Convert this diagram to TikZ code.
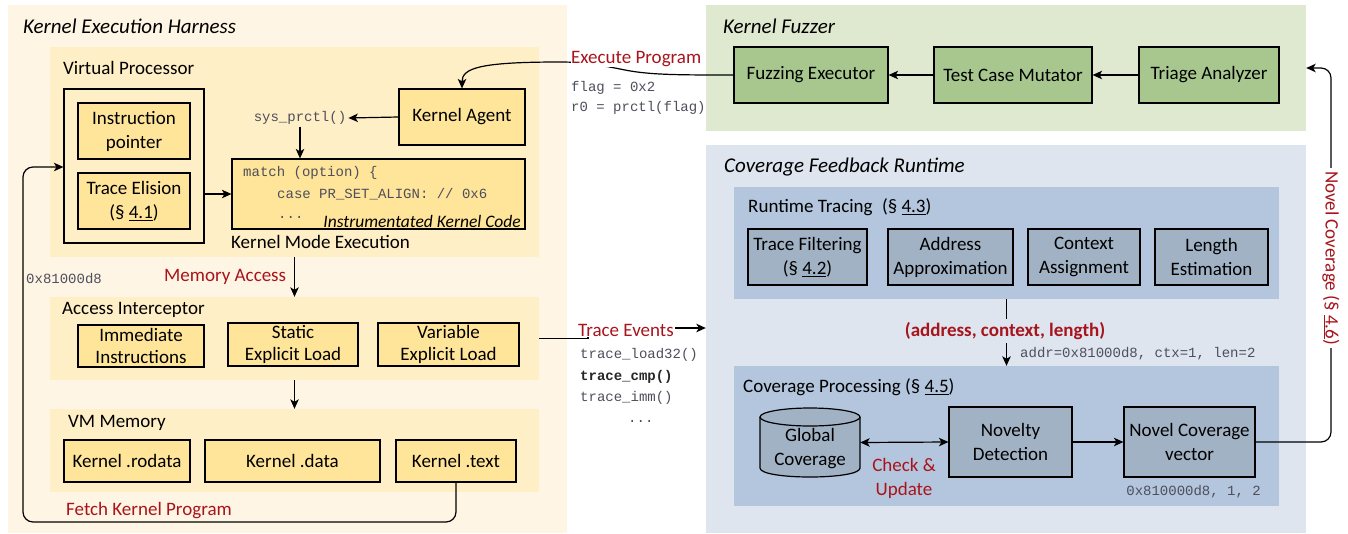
\documentclass[tikz,border=0pt]{standalone}
\usepackage{fontspec}
\setmainfont{Carlito}
\setmonofont{Liberation Mono}
\usetikzlibrary{arrows.meta}
\definecolor{bgY}{HTML}{FFF5E4}
\definecolor{pY}{HTML}{FFEFC6}
\definecolor{nY}{HTML}{FFE599}
\definecolor{bgG}{HTML}{DFE9CF}
\definecolor{nG}{HTML}{A8C78F}
\definecolor{bgB}{HTML}{DEE5EF}
\definecolor{pB}{HTML}{B3C6DD}
\definecolor{nB}{HTML}{A2B2C5}
\definecolor{dred}{HTML}{A8141C}
\definecolor{mono}{HTML}{4E4E5C}
\newcommand\fs{\fontsize{19}{24}\selectfont}
\newcommand\ttl{\fontsize{21}{25}\selectfont\itshape}
\newcommand\mt{\fontsize{14}{21}\selectfont\ttfamily}
\begin{document}
\begin{tikzpicture}[x=1pt,y=-1pt,
  every node/.style={font=\fs, inner sep=1pt},
  panel/.style={fill=#1, draw=none, inner sep=0},
  bx/.style={fill=#1, draw=black, line width=1.2pt, inner sep=0, align=center},
  arr/.style={-{Stealth[length=9.5pt,width=8.5pt,inset=2.5pt]}, line width=1.2pt},
  darr/.style={{Stealth[length=9.5pt,width=8.5pt,inset=2.5pt]}-{Stealth[length=9.5pt,width=8.5pt,inset=2.5pt]}, line width=1.2pt},
  lbl/.style={text=dred},
  code/.style={font=\mt, text=mono, anchor=west, inner sep=1pt}
]
\useasboundingbox (0,0) rectangle (1348,533);
% ---------- left harness
\node[panel=bgY, minimum width=559, minimum height=528] (harness) at (287.5,269) {};
\node[anchor=west, font=\ttl] (t1) at (22,26) {Kernel Execution Harness};
\node[panel=pY, minimum width=489, minimum height=210] (vp) at (294.5,152) {};
\node[anchor=west] (vpt) at (62,68) {Virtual Processor};
\node[bx=pY, minimum width=140, minimum height=154] (ib) at (134,166) {};
\node[bx=nY, minimum width=112, minimum height=56] (ip) at (134,131) {Instruction\\pointer};
\node[bx=nY, minimum width=112, minimum height=56] (te) at (134,201) {Trace Elision\\(§ \underline{4.1})};
\node[bx=nY, minimum width=126, minimum height=56] (ka) at (462,117) {Kernel Agent};
\node[font=\mt, text=mono, inner sep=2pt] (sp) at (300,118) {sys\_prctl()};
\node[bx=nY, minimum width=293, minimum height=70] (code) at (378.5,194) {};
\node[code] (c1) at (242,173) {match (option) \{};
\node[code] (c2) at (276,194) {case PR\_SET\_ALIGN: // 0x6};
\node[code] (c3) at (277,217) {...};
\node[anchor=east, font=\fontsize{17.5}{20}\selectfont\itshape] (ikc) at (522,221) {Instrumentated Kernel Code};
\node[anchor=west] (kme) at (230,242) {Kernel Mode Execution};

\node[panel=pY, minimum width=489, minimum height=83] (ai) at (294.5,338.5) {};
\node[anchor=west] (ait) at (61,310) {Access Interceptor};
\node[bx=nY, minimum width=126, minimum height=42] (imm) at (141,346) {Immediate\\[-2pt]Instructions};
\node[bx=nY, minimum width=130, minimum height=43] (sel) at (293,344.5) {Static\\[-2pt]Explicit Load};
\node[bx=nY, minimum width=141, minimum height=43] (vel) at (448.5,344.5) {Variable\\[-2pt]Explicit Load};

\node[panel=pY, minimum width=489, minimum height=83] (vm) at (294.5,450.5) {};
\node[anchor=west] (vmt) at (67,423) {VM Memory};
\node[bx=nY, minimum width=126, minimum height=42] (ro) at (127,461) {Kernel .rodata};
\node[bx=nY, minimum width=175, minimum height=42] (kd) at (292.5,461) {Kernel .data};
\node[bx=nY, minimum width=120, minimum height=42] (kt) at (456,461) {Kernel .text};

% ---------- fuzzer
\node[panel=bgG, minimum width=600, minimum height=126] (fuzz) at (1006,68) {};
\node[anchor=west, font=\ttl] (t2) at (722,26) {Kernel Fuzzer};
\node[bx=nG, minimum width=154, minimum height=56] (fe) at (811,75) {Fuzzing Executor};
\node[bx=nG, minimum width=158, minimum height=56] (tcm) at (1013,75) {Test Case Mutator};
\node[bx=nG, minimum width=140, minimum height=56] (ta) at (1209,75) {Triage Analyzer};

% ---------- coverage
\node[panel=bgB, minimum width=600, minimum height=388] (cfr) at (1006,339) {};
\node[anchor=west, font=\ttl] (t3) at (723,167) {Coverage Feedback Runtime};
\node[panel=pB, minimum width=545, minimum height=112] (rt) at (1006.5,243) {};
\node[anchor=west] (rtt) at (747,207) {Runtime Tracing\enspace(§ \underline{4.3})};
\node[bx=nB, minimum width=119, minimum height=56] (tf) at (807.5,257) {Trace Filtering\\(§ \underline{4.2})};
\node[bx=nB, minimum width=125, minimum height=56] (aa) at (950.5,257) {Address\\Approximation};
\node[bx=nB, minimum width=112, minimum height=56] (ca) at (1084,257) {Context\\Assignment};
\node[bx=nB, minimum width=113, minimum height=56] (le) at (1211.5,257) {Length\\Estimation};

\node[panel=pB, minimum width=545, minimum height=140] (cp) at (1006.5,436) {};
\node[anchor=west] (cpt) at (742,387) {Coverage Processing (§ \underline{4.5})};
% cylinder
\node[minimum width=100, minimum height=69, inner sep=0] (gc) at (810,442.5) {};
\fill[nB] (760,417) -- (760,468) .. controls (760,480) and (860,480) .. (860,468) -- (860,417) -- cycle;
\draw[line width=1.2pt] (760,417) -- (760,468) .. controls (760,480) and (860,480) .. (860,468) -- (860,417);
\draw[line width=1.2pt, fill=nB] (810,417) ellipse [x radius=50, y radius=9];
\node[align=center] (gct) at (810,449) {Global\\Coverage};
\node[bx=nB, minimum width=123, minimum height=70] (nd) at (1010.5,442) {Novelty\\Detection};
\node[bx=nB, minimum width=131, minimum height=70] (ncv) at (1189.5,442) {Novel Coverage\\vector};

% ---------- connectors
\draw[arr] (ka.west) -- (sp.east);
\draw[arr] (sp.south) -- (sp.south |- code.north);
\draw[arr] (ib.east |- code.west) -- (code.west);
\draw[arr] (vp.south) -- (ai.north);
\draw[arr] (ai.south) -- (vm.north);
\draw[arr, rounded corners=10pt] (kt.south) -- (kt.south |- 0,522) -- (23,522) -- (23,167) -- (ib.west |- 0,167);
\draw[arr] (fe.west) .. controls (680,75) and (650,75) .. (625,70) .. controls (600,65) and (585,62) .. (560,62) .. controls (480,62) and (462,68) .. (ka.north);
\draw[arr] (ta.west) -- (tcm.east);
\draw[arr] (tcm.west) -- (fe.east);
\draw[arr] (ai.east) -- (588,338.5) -- (588,328) -- (cfr.west |- 0,328);
\draw[arr] (rt.south) -- (cp.north);
\draw[darr] (gc.east) -- (nd.west);
\draw[arr] (nd.east) -- (ncv.east -| ncv.west);
\draw[arr, rounded corners=10pt] (ncv.east) -- (1331,442) -- (1331,68) -- (fuzz.east |- 0,68);

% ---------- labels
\node[lbl, anchor=west] (lma) at (163,277) {Memory Access};
\node[font=\mt, text=mono, anchor=west] (addr1) at (25,279) {0x81000d8};
\node[lbl, anchor=west] (lfk) at (65,511) {Fetch Kernel Program};
\node[lbl, anchor=west, fill=white, inner sep=0pt, text height=12pt, text depth=4pt] (lep) at (571,59) {Execute Program};
\node[code] (f1) at (570,88) {flag = 0x2};
\node[code] (f2) at (570,108) {r0 = prctl(flag)};
\node[lbl, anchor=west, fill=white] (lte) at (577,330) {Trace Events};
\node[code] (tr1) at (579,355) {trace\_load32()};
\node[code, text=black!85, font=\mt\bfseries] (tr2) at (579,377) {trace\_cmp()};
\node[code] (tr3) at (579,398) {trace\_imm()};
\node[code] (tr4) at (627,421) {...};
\node[lbl, fill=bgB, font=\fs\bfseries, inner sep=3pt] (acl) at (1005,331) {(address, context, length)};
\node[code] (addr2) at (1019,354) {addr=0x81000d8, ctx=1, len=2};
\node[lbl, align=center] (chk) at (904,478) {Check \&\\Update};
\node[font=\mt, text=mono, anchor=east] (ncvt) at (1262,492) {0x810000d8, 1, 2};
\node[lbl, fill=white, rotate=-90, inner sep=3pt] (lnc) at (1331,258) {Novel Coverage (§ \underline{4.6})};
\end{tikzpicture}
\end{document}
